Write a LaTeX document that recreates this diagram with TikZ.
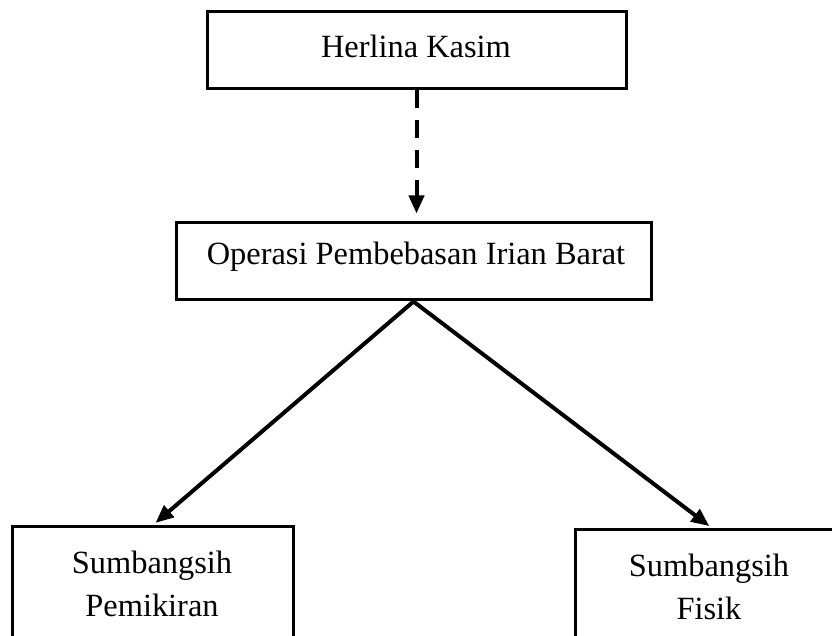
\documentclass[tikz,border=0pt]{standalone}
\usepackage{fontspec}
\setmainfont{Liberation Serif}
\usepackage{tikz}
\usetikzlibrary{positioning, arrows.meta}

\begin{document}
\begin{tikzpicture}[x=0.5pt, y=-0.5pt,
        box/.style={rectangle, draw, line width=1.5pt, inner sep=0pt},
        lbl/.style={inner sep=0pt, font=\fontsize{16.2}{21.5}\selectfont, align=center},
        conn/.style={line width=2pt, -{Triangle[length=9pt, width=7.5pt]}}]
                    \useasboundingbox (0, 0) rectangle (832, 636);
                    \clip (0, 0) rectangle (832, 636);

                    \node[box, minimum width=209.5pt, minimum height=38.5pt] (herlina) at (416.5, 50.5) {};
                    \node[box, minimum width=237.5pt, minimum height=38.5pt] (operasi) at (413.5, 261.5) {};
                    \node[box, minimum width=140.5pt, minimum height=76.5pt] (pemikiran) at (152.5, 603.5) {};
                    \node[box, minimum width=137.5pt, minimum height=75pt] (fisik) at (712.5, 605) {};

                    \node[lbl, anchor=base] (herlinatxt) at (416, 58) {Herlina Kasim};
                    \node[lbl, anchor=base] (operasitxt) at (416, 265) {Operasi Pembebasan Irian Barat};
                    \node[lbl] (pemikirantxt) at (152, 584) {Sumbangsih\\Pemikiran};
                    \node[lbl] (fisiktxt) at (709, 587) {Sumbangsih\\Fisik};

                    \draw[conn, dash pattern=on 9pt off 6pt, shorten >=4pt] (herlina.south) -- (herlina.south |- operasi.north);
                    \draw[conn, shorten >=2pt] (operasi.south) -- (pemikiran.north);
                    \draw[conn, shorten >=2pt] (operasi.south) -- (fisik.north);
                \end{tikzpicture}
\end{document}
